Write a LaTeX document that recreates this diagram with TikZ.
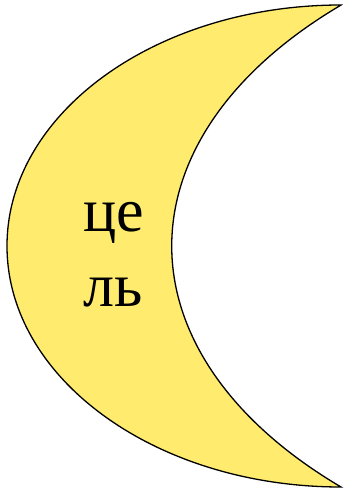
\documentclass[tikz,border=0pt]{standalone}
\usepackage{fontspec}
\setmainfont{Liberation Serif}
\definecolor{moonfill}{HTML}{FFEB6E}
\begin{document}
\begin{tikzpicture}[x=1pt,y=1pt,
  moontext/.style={font=\fontsize{62}{62}\selectfont, anchor=base, inner sep=0pt}]
\useasboundingbox (0,0) rectangle (347,490);
\coordinate (top) at (341,485);
\draw[line width=1.3pt, fill=moonfill, line join=miter]
  (top) arc[start angle=90, end angle=270, x radius=334, y radius=241]
        arc[start angle=224.8, end angle=135.4, x radius=583, y radius=342] -- cycle;
\node[moontext] (t1) at (113.5,258) {це};
\node[moontext] (t2) at (113.5,183) {ль};
\end{tikzpicture}
\end{document}
